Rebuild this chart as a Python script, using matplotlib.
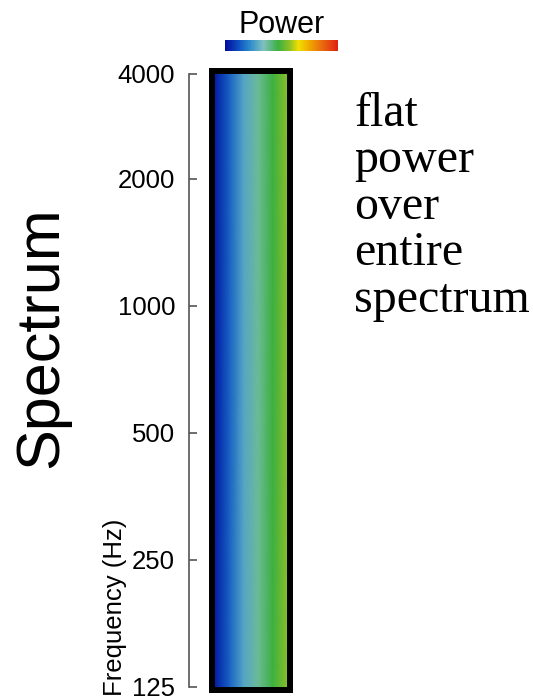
import numpy as np
import matplotlib
matplotlib.use("Agg")
import matplotlib.pyplot as plt
from matplotlib.colors import LinearSegmentedColormap
from matplotlib.patches import Rectangle

plt.rcParams["font.family"] = ["Liberation Sans", "DejaVu Sans"]

# data
freq_ticks = [125, 250, 500, 1000, 2000, 3540]
freq_labels = ["125", "250", "500", "1000", "2000", "4000"]
bar_positions = [0.0, 0.2, 0.4, 0.6, 0.8, 1.0]
power_levels = [0.03, 0.15, 0.28, 0.38, 0.47, 0.56]
note_lines = ["flat", "power", "over", "entire", "spectrum"]

# jet-like power colormap
cmap_stops = [0.0, 0.12, 0.22, 0.34, 0.47, 0.57, 0.65, 0.76, 0.88, 1.0]
cmap_colors = ["#000c9c", "#1050c0", "#2c8ccc", "#80c0c0", "#3cb040",
               "#8cc028", "#f0e000", "#f0a000", "#e86010", "#e02010"]
power_cmap = LinearSegmentedColormap.from_list("power", list(zip(cmap_stops, cmap_colors)))

W, H = 533, 700
fig = plt.figure(figsize=(W / 100, H / 100), dpi=100)


def box(x0, y0, x1, y1):
    return [x0 / W, 1 - y1 / H, (x1 - x0) / W, (y1 - y0) / H]


# main bar
ax = fig.add_axes(box(215, 74, 287, 687))
ax.set_yscale("log")
ax.set_ylim(freq_ticks[0], freq_ticks[-1])
ax.set_xlim(0, 1)
X, Y = np.meshgrid(bar_positions, [freq_ticks[0], freq_ticks[-1]])
C = np.array([power_levels, power_levels])
ax.pcolormesh(X, Y, C, shading="gouraud", cmap=power_cmap, vmin=0, vmax=1)
ax.add_patch(Rectangle((-0.035, -0.0049), 1.07, 1.0098, transform=ax.transAxes,
                       fill=False, edgecolor="black", linewidth=4.3, clip_on=False))

for s in ["top", "right", "bottom"]:
    ax.spines[s].set_visible(False)
ax.spines["left"].set_position(("outward", 26 * 0.72))
ax.spines["left"].set_color("#555555")
ax.spines["left"].set_linewidth(1.2)
ax.set_xticks([])
ax.yaxis.set_minor_locator(matplotlib.ticker.NullLocator())
ax.set_yticks(freq_ticks)
ax.set_yticklabels(freq_labels)
ax.tick_params(axis="y", direction="in", length=6, width=1.2, color="#555555",
               labelsize=18.5, pad=10)

fig.text(115 / W, 1 - 696 / H, "Frequency (Hz)", rotation=90, ha="center",
         va="bottom", fontsize=18.5)
fig.text(42 / W, 1 - 337 / H, "Spectrum", rotation=90, ha="center",
         va="center", fontsize=44)

fig.text(354 / W, 1 - 92 / H, "\n".join(note_lines), ha="left", va="top",
         fontsize=34.5, family=["Liberation Serif", "DejaVu Serif"], linespacing=1.07)

# power colour bar
cax = fig.add_axes(box(225, 40, 338, 51))
sm = matplotlib.cm.ScalarMappable(cmap=power_cmap, norm=matplotlib.colors.Normalize(0, 1))
cb = fig.colorbar(sm, cax=cax, orientation="horizontal")
cb.outline.set_visible(False)
cb.set_ticks([])
cax.set_title("Power", fontsize=22, pad=4)

fig.savefig("out.png", dpi=100)
